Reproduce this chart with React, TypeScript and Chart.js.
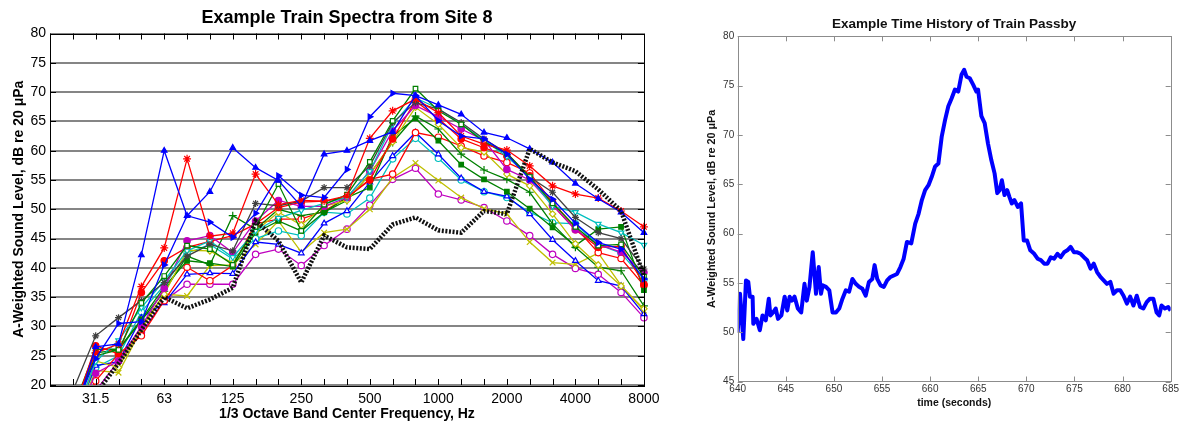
import React, { useEffect, useRef } from 'react';
import { Chart, registerables } from 'chart.js';

Chart.register(...registerables);

const FONT = "'Liberation Sans', Arial, Helvetica, sans-serif";

// ---------- Left chart data: 1/3 octave spectra ----------
const bandLabels = ['20', '25', '31.5', '40', '50', '63', '80', '100', '125', '160', '200', '250', '315', '400', '500', '630', '800', '1000', '1250', '1600', '2000', '2500', '3150', '4000', '5000', '6300', '8000'];
const majorBandLabels = ['31.5', '63', '125', '250', '500', '1000', '2000', '4000', '8000'];

const blueUp = [null, 14, 26.5, 27, 42.2, 60, 48.9, 53, 60.5, 57.1, 54.9, 50.5, 59.4, 60, 61.7, 63.2, 69.4, 67.8, 66.2, 63.1, 62.2, 60.3, 58, 54.4, 51.8, 49.5, 46];
const blueRight = [null, 15, 24.5, 30.5, 30.8, 40.5, 48.9, 47.8, 45.2, 49.3, 55.7, 52.4, 52, 56.8, 65.8, 69.8, 69.4, 65.1, 62.5, 62, 59.4, 55.1, 51.7, 47.6, 44.3, 43.2, 38.1];
const blueOpen = [null, 14, 23.3, 24, 31.5, 34, 38.9, 39.1, 39, 44.4, 44, 42.5, 47.6, 49.7, 54.6, 59.1, 63.1, 59.4, 55.3, 53, 52.2, 49.2, 44.8, 41.2, 37.8, 36.9, 32.1];
const redStar = [null, 16, 25.5, 27, 36.8, 43.4, 58.6, 45.4, 45.9, 56, 50.8, 51.5, 51.4, 52.3, 62.1, 66.8, 68.8, 66.5, 62.5, 61.1, 60.1, 57.4, 54, 52.6, 51.9, 49.7, 47];
const redDot = [null, 15, 26.7, 25.3, 35.8, 41.2, 43.5, 44.5, 45.5, 47.5, 50.3, 51.2, 51.4, 52, 55, 62, 68.5, 65.5, 62, 60.5, 59.1, 55.7, 50.7, 46.5, 43.5, 43.7, 37.2];
const redOpen = [null, 13, 20.7, 25.3, 28.4, 34.4, 40.1, 37.8, 40.4, 47.5, 48.3, 48.3, 49.7, 52, 55.1, 56, 63.1, 62.3, 60.8, 59.1, 58, 56.2, 51.2, 46.9, 42.6, 41.6, 37];
const greenOpen = [null, 15, 25, 26, 34, 38.6, 43.8, 43.2, 40.5, 47, 54.3, 46.3, 50.8, 52.5, 58.1, 65.1, 70.6, 66.8, 64.5, 61.5, 59.5, 55.5, 51, 47, 43.8, 44, 38.5];
const greenFill = [null, 16, 26.1, 26.1, 31.2, 36.7, 41.2, 40.8, 40.2, 46, 48, 46.3, 49.5, 52, 53.7, 62.5, 65.5, 61.7, 57.6, 55.1, 53, 50.1, 46.9, 43.8, 46.6, 47, 36.2];
const greenPlus = [null, 15, 25.5, 26, 31, 36, 42, 40.5, 48.9, 46.6, 50, 48.9, 49.5, 51.5, 56, 61.4, 65.9, 63.7, 59.4, 56.7, 55.1, 52.9, 47.5, 43.5, 40.1, 39.5, 33.5];
const cyanDown = [null, 14, 24, 27.6, 33.2, 37.8, 42.9, 44.6, 41.8, 46.3, 48.5, 49.8, 51, 52, 56.5, 64.5, 69, 67.2, 64.5, 61.8, 59, 55.5, 50.5, 49.5, 47.5, 46, 43.9];
const cyanOpen = [null, 14, 23, 25, 32.5, 37, 42.5, 44, 41.5, 45, 46.3, 45.5, 49.5, 49.2, 51.9, 58.6, 62.1, 58.7, 55, 53, 52, 49.5, 47.7, 47.5, 44, 42.5, 38];
const magentaDot = [null, 13, 22, 24.1, 30, 36.5, 44.6, 45.5, 42.6, 48, 51.5, 50.5, 50.5, 52, 56.5, 63.4, 67.7, 65.8, 63.7, 61.8, 56.8, 55, 50.7, 46.5, 44, 42.7, 39.2];
const magentaOpen = [null, 12, 19, 24.1, 29, 34.4, 37.2, 37.2, 37.2, 42.3, 43.2, 40.4, 43.8, 46.6, 50.7, 55.1, 57, 52.6, 51.6, 50.3, 48, 45.5, 42.3, 39.9, 38.9, 35.8, 31.5];
const yellowX = [null, 13, 22.5, 22.1, 29.5, 35.5, 35.2, 40.4, 40.5, 44, 48, 42.7, 46, 46.6, 50, 55.4, 57.9, 54.9, 52, 50.1, 49.2, 44.4, 40.9, 40.6, 42.5, 37, 32.7];
const yellowDia = [null, 13, 24.1, 23, 30, 35.5, 43, 42.9, 40.8, 46.3, 49.5, 47.3, 50.5, 51.5, 56, 61.5, 67.4, 64.5, 60.5, 59.8, 56, 54, 49.2, 44.1, 40.5, 36.9, 33];
const greyStar = [null, 19, 28.4, 31.5, 34.4, 37.5, 42, 44, 42.9, 51, 50.6, 51.4, 53.7, 53.7, 57.4, 64.8, 68.2, 67.1, 64.8, 62, 59.6, 55.5, 52.9, 48.6, 46, 45, 39.8];
const blackDotted = [null, 14, 18.5, 23.7, 29.4, 35, 33.1, 34.6, 36.6, 48, 44.6, 37.5, 45.5, 43.5, 43.2, 47.4, 48.6, 46.4, 46, 49.7, 49.2, 60.3, 58, 56.5, 53.4, 49.7, 38.6];

const spectraTicks = [20, 25, 30, 35, 40, 45, 50, 55, 60, 65, 70, 75, 80];

// ---------- Right chart data: time history ----------
const timeSeconds = [640.00, 640.24, 640.58, 640.86, 641.10, 641.27, 641.55, 641.62, 641.96, 642.30, 642.58, 642.92, 643.23, 643.40, 643.68, 643.95, 644.19, 644.54, 644.88, 645.15, 645.40, 645.64, 645.91, 646.25, 646.60, 646.94, 647.18, 647.46, 647.80, 648.14, 648.42, 648.66, 648.83, 649.18, 649.52, 649.86, 650.21, 650.55, 650.89, 651.24, 651.58, 651.92, 652.27, 652.61, 652.96, 653.30, 653.64, 653.99, 654.23, 654.50, 654.85, 655.19, 655.53, 655.88, 656.22, 656.56, 656.91, 657.25, 657.59, 658.04, 658.45, 658.80, 659.14, 659.48, 659.83, 660.17, 660.52, 660.86, 661.20, 661.55, 661.89, 662.23, 662.58, 662.92, 663.26, 663.54, 663.78, 664.12, 664.47, 664.81, 664.98, 665.33, 665.67, 666.01, 666.36, 666.70, 666.98, 667.22, 667.46, 667.73, 668.01, 668.25, 668.49, 668.76, 669.11, 669.45, 669.73, 670.07, 670.41, 670.82, 671.17, 671.51, 671.86, 672.20, 672.54, 672.89, 673.23, 673.57, 673.92, 674.26, 674.60, 674.95, 675.29, 675.64, 675.98, 676.32, 676.67, 677.01, 677.35, 677.70, 678.04, 678.38, 678.73, 679.07, 679.42, 679.76, 680.10, 680.45, 680.79, 681.13, 681.48, 681.82, 682.16, 682.51, 682.85, 683.20, 683.54, 683.81, 684.05, 684.40, 684.74, 685.00];
const levelDb = [50.0, 53.9, 49.3, 55.25, 55.1, 53.6, 53.6, 50.85, 51.35, 50.2, 51.7, 51.2, 53.4, 51.7, 52.0, 52.4, 51.35, 51.7, 53.6, 52.2, 53.6, 53.2, 53.6, 52.4, 52.0, 54.9, 53.2, 54.6, 58.1, 53.9, 56.6, 53.9, 54.75, 54.6, 54.25, 52.0, 52.0, 52.4, 53.4, 54.25, 54.1, 55.4, 54.9, 54.6, 54.4, 53.7, 55.1, 55.4, 56.8, 55.4, 54.75, 54.6, 55.25, 55.6, 55.75, 55.9, 56.6, 57.45, 59.15, 59.0, 61.0, 62.0, 63.4, 64.4, 64.9, 65.75, 66.8, 67.1, 69.8, 71.5, 72.9, 73.7, 74.6, 74.4, 76.1, 76.6, 75.9, 75.75, 75.1, 74.4, 74.6, 71.9, 71.2, 69.15, 67.45, 66.1, 64.1, 64.4, 65.4, 63.9, 64.4, 63.7, 63.05, 63.4, 62.7, 63.05, 59.3, 59.3, 58.3, 57.95, 57.45, 57.3, 56.95, 56.95, 57.6, 57.45, 57.95, 57.6, 58.1, 58.3, 58.65, 58.1, 58.1, 57.95, 57.6, 57.3, 56.45, 56.95, 56.1, 55.6, 55.25, 54.9, 55.1, 53.9, 54.25, 54.25, 53.7, 52.9, 53.6, 52.7, 53.7, 52.55, 52.4, 53.05, 53.4, 53.4, 52.0, 51.7, 52.7, 52.4, 52.55, 52.2];

const BLUE = '#0000ff';
const RED = '#ff0000';
const GREEN = '#008000';
const CYAN = '#00bfbf';
const MAGENTA = '#bf00bf';
const YELLOW = '#bfbf00';
const GREY = '#404040';

const framePlugin = {
  id: 'frame',
  afterDatasetsDraw(chart: any, _args: any, opts: any) {
    const { ctx, chartArea } = chart;
    const { left, right, top, bottom } = chartArea;
    const len = opts.tickLength ?? 5;
    ctx.save();
    ctx.strokeStyle = opts.color || '#000';
    ctx.lineWidth = opts.lineWidth || 1;
    ctx.beginPath();
    const xs = chart.scales.x;
    xs.ticks.forEach((_t: any, i: number) => {
      const px = Math.round(xs.getPixelForTick(i)) + 0.5;
      ctx.moveTo(px, bottom);
      ctx.lineTo(px, bottom - len);
      ctx.moveTo(px, top);
      ctx.lineTo(px, top + len);
    });
    const ys = chart.scales.y;
    ys.ticks.forEach((_t: any, i: number) => {
      const py = Math.round(ys.getPixelForTick(i)) + 0.5;
      ctx.moveTo(left, py);
      ctx.lineTo(left + len, py);
      ctx.moveTo(right, py);
      ctx.lineTo(right - len, py);
    });
    ctx.stroke();
    ctx.strokeRect(Math.round(left) + 0.5, Math.round(top) + 0.5, Math.round(right - left), Math.round(bottom - top));
    ctx.restore();
  },
};

function series(data: (number | null)[], color: string, style: string, filled: boolean, rotation = 0, radius = 3.2) {
  return {
    data,
    borderColor: color,
    backgroundColor: color,
    borderWidth: 1.3,
    pointStyle: style,
    pointRotation: rotation,
    pointRadius: radius,
    pointBorderWidth: 1.2,
    pointBorderColor: color,
    pointBackgroundColor: filled ? color : '#ffffff',
    tension: 0,
  };
}

function SpectraChart() {
  const ref = useRef<HTMLCanvasElement>(null);
  useEffect(() => {
    if (!ref.current) return;
    const chart = new Chart(ref.current, {
      type: 'line',
      data: {
        labels: bandLabels,
        datasets: [
          {
            data: blackDotted,
            borderColor: '#111111',
            borderWidth: 4.5,
            borderDash: [2, 1.6],
            pointRadius: 0,
            tension: 0,
          } as any,
          series(blueRight, BLUE, 'triangle', true, 90),
          series(blueUp, BLUE, 'triangle', true),
          series(redStar, RED, 'star', true, 0, 4),
          series(greenOpen, GREEN, 'rect', false),
          series(greyStar, GREY, 'star', true, 0, 3.5),
          series(cyanDown, CYAN, 'triangle', false, 180),
          series(magentaDot, MAGENTA, 'circle', true),
          series(redDot, RED, 'circle', true),
          series(yellowDia, YELLOW, 'rectRot', false),
          series(greenPlus, GREEN, 'cross', false, 0, 4),
          series(greenFill, GREEN, 'rect', true),
          series(redOpen, RED, 'circle', false),
          series(blueOpen, BLUE, 'triangle', false),
          series(cyanOpen, CYAN, 'circle', false),
          series(yellowX, YELLOW, 'crossRot', false, 0, 4),
          series(magentaOpen, MAGENTA, 'circle', false),
        ] as any,
      },
      options: {
        responsive: false,
        animation: false,
        events: [],
        layout: { padding: { left: 0, right: 13, top: 0, bottom: 0 } },
        plugins: {
          legend: { display: false },
          tooltip: { enabled: false },
          title: {
            display: true,
            text: 'Example Train Spectra from Site 8',
            fullSize: false,
            color: '#000',
            font: { family: FONT, size: 18, weight: 'bold' },
            padding: { top: 7.3, bottom: 4.6 },
          },
          frame: { color: '#000', lineWidth: 1, tickLength: 6 },
        } as any,
        scales: {
          x: {
            type: 'category',
            offset: false,
            grid: { display: false, drawTicks: false },
            border: { display: false },
            ticks: {
              autoSkip: false,
              maxRotation: 0,
              minRotation: 0,
              padding: 5.5,
              color: '#000',
              font: { family: FONT, size: 14 },
              callback: (_v: any, i: number) => (majorBandLabels.includes(bandLabels[i]) ? bandLabels[i] : ''),
            },
            title: {
              display: true,
              text: '1/3 Octave Band Center Frequency, Hz',
              color: '#000',
              font: { family: FONT, size: 14, weight: 'bold' },
              padding: { top: 0, bottom: 1.6 },
            },
            afterFit: (s: any) => {
              s.height = 39;
            },
          },
          y: {
            min: spectraTicks[0],
            max: spectraTicks[spectraTicks.length - 1],
            grid: { color: '#858585', lineWidth: 1.9, drawTicks: false },
            border: { display: false },
            ticks: {
              stepSize: 5,
              padding: 4,
              color: '#000',
              font: { family: FONT, size: 14 },
            },
            title: {
              display: true,
              text: 'A-Weighted Sound Level, dB re 20 μPa',
              color: '#000',
              font: { family: FONT, size: 14, weight: 'bold' },
              padding: { top: 10.6, bottom: 0 },
            },
            afterFit: (s: any) => {
              s.width = 50;
            },
          },
        } as any,
      },
      plugins: [framePlugin],
    });
    return () => chart.destroy();
  }, []);
  return <canvas ref={ref} width={665} height={424} style={{ position: 'absolute', left: 0, top: 0 }} />;
}

function TimeHistoryChart() {
  const ref = useRef<HTMLCanvasElement>(null);
  useEffect(() => {
    if (!ref.current) return;
    const chart = new Chart(ref.current, {
      type: 'line',
      data: {
        datasets: [
          {
            data: timeSeconds.map((t, i) => ({ x: t, y: levelDb[i] })),
            borderColor: BLUE,
            borderWidth: 4,
            pointRadius: 0,
            tension: 0,
            borderJoinStyle: 'round',
          } as any,
        ],
      },
      options: {
        responsive: false,
        animation: false,
        events: [],
        layout: { padding: { left: 0, right: 7, top: 0, bottom: 0 } },
        plugins: {
          legend: { display: false },
          tooltip: { enabled: false },
          title: {
            display: true,
            text: 'Example Time History of Train Passby',
            fullSize: false,
            color: '#111',
            font: { family: FONT, size: 13.5, weight: 'bold' },
            padding: { top: 15.9, bottom: 4.2 },
          },
          frame: { color: '#8c8c8c', lineWidth: 1, tickLength: 5 },
        } as any,
        scales: {
          x: {
            type: 'linear',
            min: 640,
            max: 685,
            grid: { display: false, drawTicks: false },
            border: { display: false },
            ticks: { stepSize: 5, padding: 2, color: '#333', font: { family: FONT, size: 10 } },
            title: {
              display: true,
              text: 'time (seconds)',
              color: '#111',
              font: { family: FONT, size: 10.5, weight: 'bold' },
              padding: { top: 0, bottom: 15 },
            },
            afterFit: (s: any) => {
              s.height = 42.5;
            },
          },
          y: {
            min: 45,
            max: 80,
            grid: { display: false, drawTicks: false },
            border: { display: false },
            ticks: { stepSize: 5, padding: 3.5, color: '#333', font: { family: FONT, size: 10 } },
            title: {
              display: true,
              text: 'A-Weighted Sound Level, dB re 20 μPa',
              color: '#111',
              font: { family: FONT, size: 10.8, weight: 'bold' },
              padding: { top: 26, bottom: 0 },
            },
            afterFit: (s: any) => {
              s.width = 57.7;
            },
          },
        } as any,
      },
      plugins: [framePlugin],
    });
    return () => chart.destroy();
  }, []);
  return <canvas ref={ref} width={501} height={424} style={{ position: 'absolute', left: 680, top: 0 }} />;
}

export default function App() {
  return (
    <div style={{ position: 'fixed', left: 0, top: 0, width: 1181, height: 424, background: '#ffffff', overflow: 'hidden' }}>
      <SpectraChart />
      <TimeHistoryChart />
    </div>
  );
}
